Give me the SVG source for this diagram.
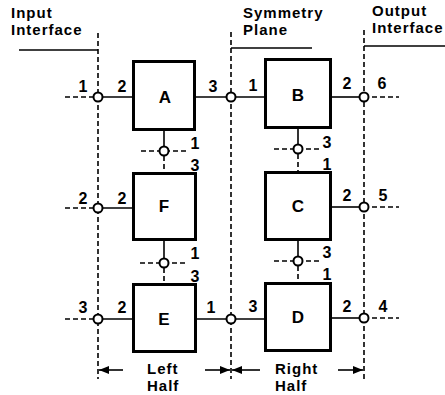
<svg xmlns="http://www.w3.org/2000/svg" width="445" height="395" viewBox="0 0 445 395">
<defs>
<style>
.box{fill:#fff;stroke:#000;stroke-width:3}
.ln{stroke:#000;stroke-width:1.6;fill:none}
.ds{stroke:#000;stroke-width:1.6;fill:none;stroke-dasharray:5,3}
.pt{fill:#fff;stroke:#000;stroke-width:2}
.lbl{font-family:"Liberation Sans",Arial,sans-serif;font-weight:bold;font-size:15px;letter-spacing:1px;fill:#000}
.num{font-family:"Liberation Sans",Arial,sans-serif;font-weight:bold;font-size:16px;fill:#000;text-anchor:middle}
.nm{font-family:"Liberation Sans",Arial,sans-serif;font-weight:bold;font-size:17px;fill:#000;text-anchor:middle}
</style>
<marker id="ah" markerUnits="userSpaceOnUse" markerWidth="11" markerHeight="8" refX="10" refY="4" orient="auto">
<path d="M0,0 L10,4 L0,8 z" fill="#000"/>
</marker>
</defs>
<rect width="445" height="395" fill="#fff"/>

<g id="planes">
<line class="ds" x1="98" y1="33" x2="98" y2="379"/>
<line class="ds" x1="231" y1="32" x2="231" y2="379"/>
<line class="ds" x1="364" y1="30" x2="364" y2="379"/>
<line class="ln" x1="19" y1="50" x2="98" y2="50"/>
<line class="ln" x1="231" y1="48" x2="312" y2="48"/>
<line class="ln" x1="364" y1="46" x2="445" y2="46"/>
<text class="lbl" x="11" y="18">Input</text>
<text class="lbl" x="11" y="35">Interface</text>
<text class="lbl" x="243" y="18">Symmetry</text>
<text class="lbl" x="243" y="35">Plane</text>
<text class="lbl" x="372" y="16">Output</text>
<text class="lbl" x="372" y="33">Interface</text>
</g>

<g id="connectors">
<!-- row A/B -->
<line class="ds" x1="65" y1="97" x2="98" y2="97"/>
<line class="ln" x1="98" y1="97" x2="132" y2="97"/>
<line class="ln" x1="196" y1="97" x2="264" y2="97"/>
<line class="ln" x1="332" y1="97" x2="364" y2="97"/>
<line class="ds" x1="364" y1="97" x2="399" y2="97"/>
<!-- row F/C -->
<line class="ds" x1="65" y1="208" x2="98" y2="208"/>
<line class="ln" x1="98" y1="208" x2="132" y2="208"/>
<line class="ln" x1="332" y1="207" x2="364" y2="207"/>
<line class="ds" x1="364" y1="207" x2="399" y2="207"/>
<!-- row E/D -->
<line class="ds" x1="65" y1="319" x2="98" y2="319"/>
<line class="ln" x1="98" y1="319" x2="132" y2="319"/>
<line class="ln" x1="196" y1="319" x2="264" y2="319"/>
<line class="ln" x1="332" y1="318" x2="364" y2="318"/>
<line class="ds" x1="364" y1="318" x2="399" y2="318"/>
<!-- A-F -->
<line class="ln" x1="164" y1="131" x2="164" y2="151"/>
<line class="ds" x1="164" y1="156" x2="164" y2="172"/>
<line class="ds" x1="141" y1="151" x2="188" y2="151"/>
<!-- F-E -->
<line class="ln" x1="164" y1="241" x2="164" y2="263"/>
<line class="ds" x1="164" y1="268" x2="164" y2="283"/>
<line class="ds" x1="140" y1="263" x2="187" y2="263"/>
<!-- B-C -->
<line class="ln" x1="298" y1="129" x2="298" y2="149"/>
<line class="ds" x1="298" y1="154" x2="298" y2="171"/>
<line class="ds" x1="274" y1="149" x2="322" y2="149"/>
<!-- C-D -->
<line class="ln" x1="298" y1="241" x2="298" y2="261"/>
<line class="ds" x1="298" y1="266" x2="298" y2="282"/>
<line class="ds" x1="274" y1="261" x2="322" y2="261"/>
<!-- ports -->
<circle class="pt" cx="98" cy="97" r="4.5"/>
<circle class="pt" cx="231" cy="97" r="4.5"/>
<circle class="pt" cx="364" cy="97" r="4.5"/>
<circle class="pt" cx="98" cy="208" r="4.5"/>
<circle class="pt" cx="364" cy="207" r="4.5"/>
<circle class="pt" cx="98" cy="319" r="4.5"/>
<circle class="pt" cx="231" cy="319" r="4.5"/>
<circle class="pt" cx="364" cy="318" r="4.5"/>
<circle class="pt" cx="164" cy="151" r="4.5"/>
<circle class="pt" cx="164" cy="263" r="4.5"/>
<circle class="pt" cx="298" cy="149" r="4.5"/>
<circle class="pt" cx="298" cy="261" r="4.5"/>
<!-- port numbers -->
<text class="num" x="83" y="92">1</text>
<text class="num" x="122" y="92">2</text>
<text class="num" x="213" y="92">3</text>
<text class="num" x="253" y="91">1</text>
<text class="num" x="347" y="89">2</text>
<text class="num" x="382" y="89">6</text>
<text class="num" x="83" y="204">2</text>
<text class="num" x="122" y="204">2</text>
<text class="num" x="347" y="201">2</text>
<text class="num" x="383" y="201">5</text>
<text class="num" x="83" y="313">3</text>
<text class="num" x="122" y="313">2</text>
<text class="num" x="211" y="313">1</text>
<text class="num" x="253" y="312">3</text>
<text class="num" x="347" y="312">2</text>
<text class="num" x="383" y="312">4</text>
<text class="num" x="195" y="149">1</text>
<text class="num" x="195" y="171">3</text>
<text class="num" x="195" y="259">1</text>
<text class="num" x="195" y="282">3</text>
<text class="num" x="327" y="148">3</text>
<text class="num" x="327" y="170">1</text>
<text class="num" x="327" y="258">3</text>
<text class="num" x="327" y="280">1</text>
</g>

<g id="node-A"><rect class="box" x="133.5" y="61.5" width="61" height="68"/><text class="nm" x="165" y="103">A</text></g>
<g id="node-B"><rect class="box" x="265.5" y="59.5" width="65" height="68"/><text class="nm" x="298" y="101">B</text></g>
<g id="node-F"><rect class="box" x="133.5" y="173.5" width="62" height="66"/><text class="nm" x="164" y="212">F</text></g>
<g id="node-C"><rect class="box" x="265.5" y="172.5" width="65" height="67"/><text class="nm" x="298" y="212">C</text></g>
<g id="node-E"><rect class="box" x="133.5" y="284.5" width="62" height="67"/><text class="nm" x="164" y="325">E</text></g>
<g id="node-D"><rect class="box" x="265.5" y="283.5" width="65" height="67"/><text class="nm" x="298" y="323">D</text></g>

<g id="halves">
<line class="ln" x1="123" y1="370" x2="99" y2="370" marker-end="url(#ah)"/>
<line class="ln" x1="205" y1="370" x2="230" y2="370" marker-end="url(#ah)"/>
<line class="ln" x1="260" y1="370" x2="232" y2="370" marker-end="url(#ah)"/>
<line class="ln" x1="338" y1="370" x2="363" y2="370" marker-end="url(#ah)"/>
<text class="lbl" x="147" y="374">Left</text>
<text class="lbl" x="147" y="391">Half</text>
<text class="lbl" x="275" y="374">Right</text>
<text class="lbl" x="275" y="391">Half</text>
</g>
</svg>
